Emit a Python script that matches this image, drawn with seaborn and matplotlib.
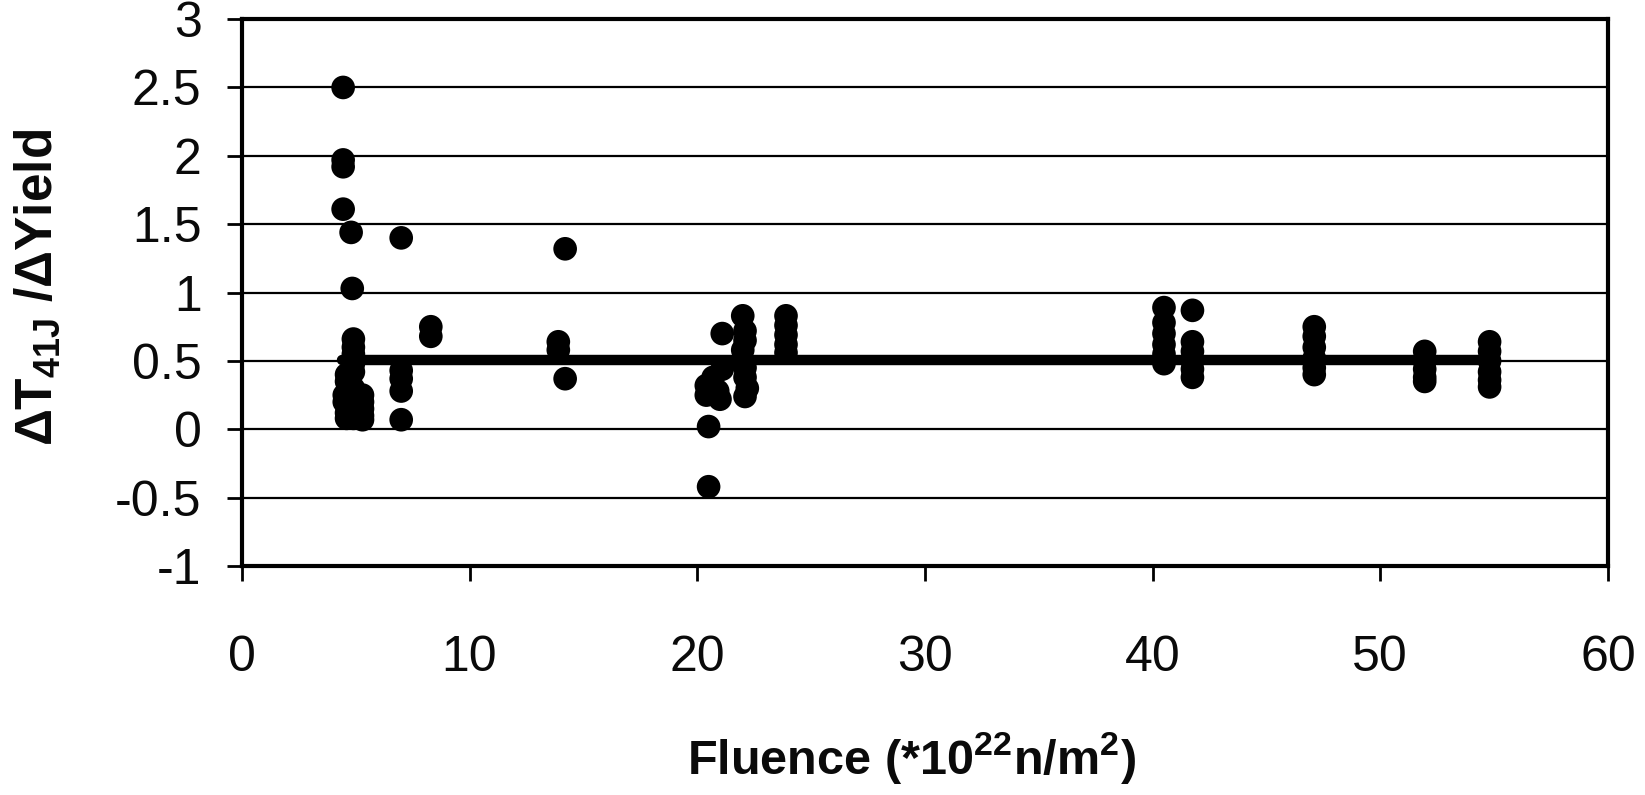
import matplotlib
matplotlib.use("Agg")
import matplotlib.pyplot as plt
import seaborn as sns
import pandas as pd

# ---- data ----
fluence = [4.45, 4.45, 4.45, 4.45, 4.8, 4.85,
           4.6, 4.6, 4.5, 4.5, 4.6, 4.6,
           4.9, 4.9, 4.9, 4.9, 4.9, 4.9, 4.9, 4.9, 4.9,
           5.3, 5.3, 5.3, 5.3, 5.3,
           7.0, 7.0, 7.0, 7.0, 7.0,
           8.3, 8.3,
           14.2, 13.9, 13.9, 14.2,
           20.5, 20.5, 20.4, 20.4, 20.7, 20.9, 21.1, 21.0, 21.1,
           22.0, 22.1, 22.1, 22.0, 22.0, 22.1, 22.1, 22.2, 22.1,
           23.9, 23.9, 23.9, 23.9, 23.9,
           40.5, 40.5, 40.5, 40.5, 40.5, 40.5,
           41.75, 41.75, 41.75, 41.75, 41.75, 41.75,
           47.1, 47.1, 47.1, 47.1, 47.1, 47.1,
           51.95, 51.95, 51.95, 51.95, 51.95,
           54.8, 54.8, 54.8, 54.8, 54.8, 54.8]
ratio = [2.50, 1.97, 1.92, 1.61, 1.44, 1.03,
         0.40, 0.35, 0.25, 0.20, 0.12, 0.08,
         0.66, 0.60, 0.55, 0.48, 0.42, 0.30, 0.22, 0.15, 0.08,
         0.25, 0.20, 0.15, 0.10, 0.07,
         1.40, 0.43, 0.37, 0.28, 0.07,
         0.75, 0.68,
         1.32, 0.64, 0.58, 0.37,
         0.02, -0.42, 0.32, 0.25, 0.38, 0.28, 0.44, 0.22, 0.70,
         0.83, 0.72, 0.65, 0.58, 0.50, 0.45, 0.38, 0.30, 0.24,
         0.83, 0.76, 0.69, 0.62, 0.56,
         0.89, 0.78, 0.70, 0.62, 0.55, 0.48,
         0.87, 0.64, 0.57, 0.50, 0.44, 0.38,
         0.75, 0.68, 0.60, 0.52, 0.45, 0.40,
         0.57, 0.50, 0.44, 0.38, 0.35,
         0.64, 0.57, 0.50, 0.42, 0.36, 0.31]

fit_x = [4.4, 54.8]
fit_y = [0.51, 0.51]

xticks = [0, 10, 20, 30, 40, 50, 60]
xtick_labels = ["0", "10", "20", "30", "40", "50", "60"]
yticks = [-1, -0.5, 0, 0.5, 1, 1.5, 2, 2.5, 3]
ytick_labels = ["-1", "-0.5", "0", "0.5", "1", "1.5", "2", "2.5", "3"]

x_label = "Fluence (*10$^{22}$n/m$^{2}$)"
y_label = "ΔT$_{41J}$ /ΔYield"

# ---- style ----
sns.set_theme(style="white")
plt.rcParams["font.family"] = ["Liberation Sans", "DejaVu Sans"]
plt.rcParams["axes.unicode_minus"] = False
plt.rcParams["mathtext.fontset"] = "custom"
plt.rcParams["mathtext.rm"] = "Liberation Sans"
plt.rcParams["mathtext.bf"] = "Liberation Sans:bold"
plt.rcParams["mathtext.default"] = "bf"

df = pd.DataFrame({"fluence": fluence, "ratio": ratio})
fit = pd.DataFrame({"x": fit_x, "y": fit_y})

fig = plt.figure(figsize=(16.45, 7.95), dpi=100)
ax = fig.add_axes([0.147, 0.288, 0.8305, 0.688])

ax.yaxis.grid(True, color="black", linewidth=1.6, zorder=0)
ax.set_axisbelow(True)

sns.lineplot(data=fit, x="x", y="y", color="black", linewidth=7.5, ax=ax, zorder=2)
sns.scatterplot(data=df, x="fluence", y="ratio", color="black", s=290,
                edgecolor="none", ax=ax, zorder=3)

ax.set_xlim(0, 60)
ax.set_ylim(-1, 3)
ax.set_xticks(xticks)
ax.set_xticklabels(xtick_labels)
ax.set_yticks(yticks)
ax.set_yticklabels(ytick_labels)

for side in ["left", "right", "top", "bottom"]:
    ax.spines[side].set_visible(True)
    ax.spines[side].set_color("black")
    ax.spines[side].set_linewidth(3)

ax.tick_params(axis="x", which="major", direction="out", length=11, width=2,
               color="black", pad=39, labelsize=36, labelcolor="#0a0a0a", bottom=True)
ax.tick_params(axis="y", which="major", direction="out", length=11, width=2,
               color="black", pad=18, labelsize=36, labelcolor="#0a0a0a", left=True)

ax.set_xlabel(x_label, fontsize=35, fontweight="bold", color="#0a0a0a")
ax.set_ylabel(y_label, fontsize=37, fontweight="bold", color="#0a0a0a")
ax.xaxis.set_label_coords(0.49, -0.30)
ax.yaxis.set_label_coords(-0.131, 0.51)

fig.savefig("out.png", dpi=100, facecolor="white")
